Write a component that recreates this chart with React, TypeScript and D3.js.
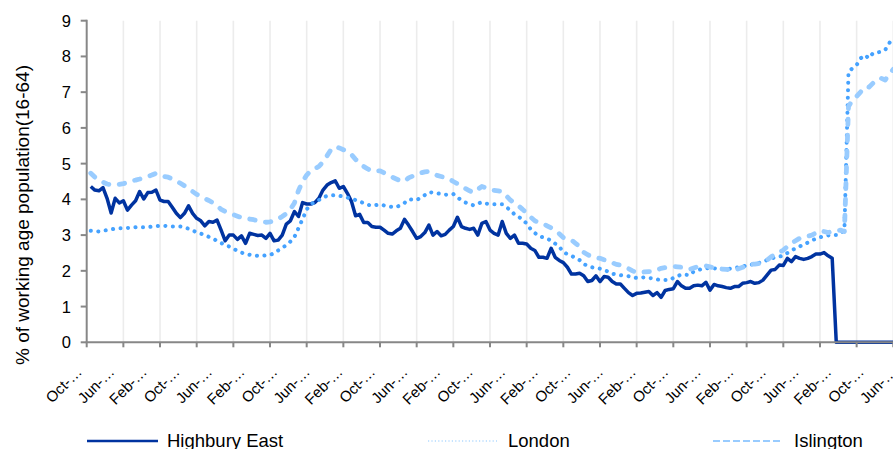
import React from 'react';
import * as d3 from 'd3';

// Monthly claimant rate from Oct-04, % of working age population (16-64)
const highburyEast = [
  4.36, 4.26, 4.24, 4.33, 4.03, 3.62, 4.03, 3.9, 3.96, 3.7,
  3.84, 3.96, 4.22, 4.01, 4.19, 4.2, 4.26, 3.98, 3.94, 3.94,
  3.78, 3.61, 3.49, 3.61, 3.82, 3.61, 3.47, 3.4, 3.26, 3.38,
  3.36, 3.42, 3.14, 2.84, 3.0, 3.0, 2.88, 2.98, 2.77, 3.05,
  3.02, 2.99, 3.0, 2.91, 3.05, 2.84, 2.86, 3.0, 3.31, 3.4,
  3.66, 3.52, 3.91, 3.87, 3.87, 3.91, 4.03, 4.26, 4.4, 4.47,
  4.52, 4.31, 4.36, 4.17, 3.94, 3.54, 3.58, 3.35, 3.35, 3.24,
  3.22, 3.22, 3.14, 3.05, 3.03, 3.12, 3.19, 3.44, 3.28, 3.1,
  2.91, 2.96, 3.07, 3.28, 3.0, 3.1, 2.98, 3.02, 3.14, 3.24,
  3.5, 3.24, 3.19, 3.16, 3.19, 3.0, 3.33, 3.38, 3.14, 3.05,
  3.0, 3.38, 3.05, 2.91, 3.0, 2.77, 2.77, 2.75, 2.63, 2.57,
  2.38, 2.38, 2.35, 2.63, 2.38, 2.29, 2.23, 2.1, 1.91, 1.91,
  1.93, 1.86, 1.7, 1.73, 1.86, 1.7, 1.84, 1.82, 1.7, 1.63,
  1.63, 1.51, 1.39, 1.31, 1.37, 1.38, 1.4, 1.42, 1.31, 1.39,
  1.26, 1.45, 1.48, 1.5, 1.7, 1.58, 1.51, 1.51, 1.58, 1.6,
  1.58, 1.68, 1.46, 1.62, 1.58, 1.56, 1.53, 1.51, 1.56, 1.56,
  1.65, 1.67, 1.7, 1.65, 1.67, 1.74, 1.88, 2.02, 2.04, 2.16,
  2.15, 2.35, 2.26, 2.4, 2.35, 2.32, 2.35, 2.4, 2.47, 2.47,
  2.51, 2.42, 2.35, 0, 0, 0, 0, 0, 0, 0,
  0, 0, 0, 0, 0, 0, 0, 0,
];

const london = [
  3.12, 3.11, 3.1, 3.12, 3.14, 3.16, 3.18, 3.19, 3.19, 3.2,
  3.21, 3.22, 3.22, 3.22, 3.22, 3.24, 3.25, 3.26, 3.26, 3.25,
  3.24, 3.24, 3.24, 3.21, 3.18, 3.13, 3.08, 3.04, 3.0, 2.95,
  2.9, 2.84, 2.78, 2.72, 2.68, 2.62, 2.56, 2.51, 2.47, 2.45,
  2.43, 2.42, 2.42, 2.43, 2.44, 2.5, 2.57, 2.64, 2.72, 2.82,
  2.95, 3.2, 3.45, 3.72, 3.86, 3.93, 3.98, 4.05, 4.1, 4.11,
  4.12, 4.1, 4.08, 4.05, 4.02, 3.98, 3.95, 3.89, 3.85, 3.82,
  3.84, 3.86, 3.83, 3.8, 3.79, 3.78, 3.84, 3.9, 4.0, 3.99,
  3.98, 4.05, 4.12, 4.2, 4.19, 4.17, 4.15, 4.13, 4.14, 4.15,
  4.05, 3.98, 3.91, 3.87, 3.83, 3.88, 3.92, 3.88, 3.87, 3.86,
  3.86, 3.86, 3.78, 3.7, 3.58, 3.51, 3.44, 3.32, 3.16, 3.06,
  2.97, 2.94, 2.9, 2.85, 2.76, 2.68, 2.52, 2.47, 2.42, 2.36,
  2.3, 2.19, 2.14, 2.1, 2.08, 2.06, 2.02, 1.98, 1.92, 1.9,
  1.88, 1.86, 1.85, 1.82, 1.8, 1.81, 1.82, 1.8, 1.79, 1.76,
  1.74, 1.74, 1.74, 1.8, 1.85, 1.9, 1.89, 1.88, 1.98, 2.02,
  2.05, 2.07, 2.08, 2.07, 2.06, 2.05, 2.05, 2.06, 2.08, 2.1,
  2.12, 2.15, 2.17, 2.2, 2.22, 2.26, 2.3, 2.34, 2.38, 2.4,
  2.42, 2.5, 2.57, 2.63, 2.68, 2.74, 2.79, 2.85, 2.9, 2.94,
  2.97, 2.99, 3.0, 3.0, 3.05, 3.14, 7.57, 7.67, 7.76, 7.95,
  8.04, 7.95, 8.09, 8.11, 8.13, 8.18, 8.37, 8.54,
];

const islington = [
  4.73, 4.62, 4.54, 4.48, 4.43, 4.41, 4.4, 4.42, 4.44, 4.47,
  4.52, 4.54, 4.57, 4.61, 4.64, 4.68, 4.73, 4.68, 4.64, 4.62,
  4.57, 4.52, 4.45, 4.38, 4.3, 4.22, 4.14, 4.08, 4.02, 3.97,
  3.9, 3.82, 3.72, 3.66, 3.62, 3.57, 3.53, 3.49, 3.46, 3.45,
  3.43, 3.4, 3.37, 3.36, 3.37, 3.4, 3.45, 3.52, 3.6, 3.72,
  3.9, 4.25, 4.5, 4.68, 4.8, 4.86, 4.92, 5.05, 5.22, 5.4,
  5.48, 5.44, 5.39, 5.33, 5.25, 5.12, 5.0, 4.92, 4.85, 4.79,
  4.79, 4.8, 4.74, 4.68, 4.62, 4.57, 4.52, 4.5, 4.6, 4.65,
  4.7, 4.74, 4.77, 4.78, 4.72, 4.67, 4.64, 4.61, 4.57, 4.5,
  4.44, 4.37, 4.3, 4.24, 4.19, 4.28, 4.36, 4.32, 4.27, 4.25,
  4.24, 4.22, 4.1, 3.98, 3.9, 3.82, 3.72, 3.61, 3.5, 3.4,
  3.35, 3.32, 3.26, 3.2, 3.12, 3.04, 2.93, 2.9, 2.86, 2.77,
  2.68, 2.52, 2.45, 2.4, 2.37, 2.35, 2.31, 2.28, 2.23, 2.18,
  2.16, 2.11, 2.06, 2.0, 1.95, 1.96, 1.97, 1.98, 1.98, 2.03,
  2.07, 2.09, 2.11, 2.12, 2.11, 2.1, 2.07, 2.04, 2.08, 2.12,
  2.13, 2.14, 2.11, 2.08, 2.06, 2.05, 2.04, 2.03, 2.02, 2.06,
  2.1, 2.14, 2.18, 2.19, 2.2, 2.25, 2.3, 2.39, 2.46, 2.52,
  2.58, 2.68, 2.77, 2.84, 2.91, 2.94, 2.97, 3.0, 3.06, 3.12,
  3.1, 3.07, 3.1, 3.12, 3.14, 3.1, 6.6, 6.78, 6.88, 7.01,
  7.15, 7.14, 7.25, 7.36, 7.39, 7.34, 7.5, 7.64,
];

// Category labels, one every 8 months (Excel truncates them)
const tickLabels = [
  'Oct-…', 'Jun-…', 'Feb-…', 'Oct-…', 'Jun-…', 'Feb-…', 'Oct-…', 'Jun-…', 'Feb-…',
  'Oct-…', 'Jun-…', 'Feb-…', 'Oct-…', 'Jun-…', 'Feb-…', 'Oct-…', 'Jun-…', 'Feb-…',
  'Oct-…', 'Jun-…', 'Feb-…', 'Oct-…', 'Jun-…', 'Feb-…', 'Oct-…', 'Jun-…',
];

const yTicks = [0, 1, 2, 3, 4, 5, 6, 7, 8, 9];

const FONT = '"Liberation Sans", Arial, sans-serif';

const series = [
  { name: 'Highbury East', values: highburyEast, color: '#0033a0', width: 3.5, dash: undefined, cap: 'butt' },
  { name: 'London', values: london, color: '#45a2ff', width: 4, dash: '0.1 7.4', cap: 'round' },
  { name: 'Islington', values: islington, color: '#99ccff', width: 4.8, dash: '5.5 10.5', cap: 'round' },
];

const App = () => {
  const width = 893;
  const height = 449;

  // x: month index, one category = ~4.07px, tick marks every 9 months
  const x = d3.scaleLinear().domain([-1, highburyEast.length - 1]).range([86.7, 893.3]);
  const y = d3.scaleLinear().domain([0, 9]).range([342.3, 20.7]);

  const tickIdx = d3.range(-1, highburyEast.length, 9);

  const line = d3
    .line<number>()
    .x((_, i) => x(i))
    .y(d => y(d));

  return (
    <div>
      <style>{'body{margin:0}'}</style>
      <svg width={width} height={height} style={{ display: 'block', fontFamily: FONT }}>
        <rect width={width} height={height} fill="#ffffff" />

        {/* vertical gridlines */}
        {tickIdx.slice(1).map(t => (
          <line key={`g${t}`} x1={x(t)} x2={x(t)} y1={y(9)} y2={y(0)} stroke="#ececec" strokeWidth={1.6} />
        ))}

        {/* y axis */}
        <line x1={x(-1)} x2={x(-1)} y1={y(9) - 1} y2={y(0)} stroke="#878787" strokeWidth={2} />
        {yTicks.map(t => (
          <g key={`y${t}`}>
            <line x1={x(-1) - 6} x2={x(-1)} y1={y(t)} y2={y(t)} stroke="#878787" strokeWidth={2} />
            <text x={71} y={y(t)} dy="0.36em" textAnchor="end" fontSize={16.5} fill="#000">
              {t}
            </text>
          </g>
        ))}

        {/* series */}
        {series.map(s => (
          <path
            key={s.name}
            d={line(s.values) || ''}
            fill="none"
            stroke={s.color}
            strokeWidth={s.width}
            strokeDasharray={s.dash}
            strokeLinecap={s.cap as any}
            strokeLinejoin="round"
          />
        ))}

        {/* x axis */}
        <line x1={x(-1) - 1} x2={x(highburyEast.length - 1)} y1={y(0)} y2={y(0)} stroke="#878787" strokeWidth={2} />
        {tickIdx.map(t => (
          <line key={`xt${t}`} x1={x(t)} x2={x(t)} y1={y(0)} y2={y(0) + 5} stroke="#878787" strokeWidth={2} />
        ))}
        {tickLabels.map((label, k) => {
          const lx = x(k * 8) - 8;
          const ly = 373;
          return (
            <text
              key={`xl${k}`}
              x={lx}
              y={ly}
              transform={`rotate(-45, ${lx}, ${ly})`}
              textAnchor="end"
              fontSize={15}
              fill="#000"
            >
              {label}
            </text>
          );
        })}

        {/* y axis title */}
        <text
          x={29}
          y={215}
          transform="rotate(-90, 29, 215)"
          textAnchor="middle"
          fontSize={19}
          fill="#000"
        >
          % of working age population(16-64)
        </text>

        {/* legend */}
        <g>
          <line x1={87} x2={158} y1={441} y2={441} stroke="#0033a0" strokeWidth={2.6} />
          <text x={167} y={446.5} fontSize={18.5} fill="#000">Highbury East</text>
          <line x1={428} x2={497} y1={441} y2={441} stroke="#b3daff" strokeWidth={1.3} strokeDasharray="1.2 2.2" />
          <text x={508} y={446.5} fontSize={18.5} fill="#000">London</text>
          <line x1={713} x2={782} y1={441} y2={441} stroke="#99ccff" strokeWidth={2} strokeDasharray="7 3" />
          <text x={794} y={446.5} fontSize={18.5} fill="#000">Islington</text>
        </g>
      </svg>
    </div>
  );
};

export default App;
